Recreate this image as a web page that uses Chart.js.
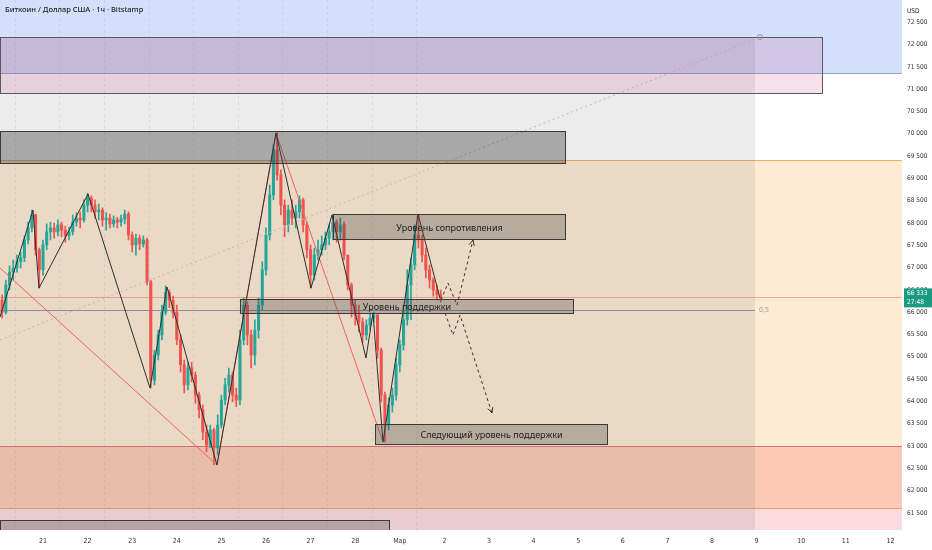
<!DOCTYPE html>
<html>
<head>
<meta charset="utf-8">
<script src="https://cdn.jsdelivr.net/npm/chart.js@4.4.1/dist/chart.umd.min.js"></script>
<style>
  html, body { margin: 0; padding: 0; background: #fff; }
</style>
</head>
<body>
<canvas id="chart" width="932" height="550"></canvas>
<script>
// BTC/USD 1h chart (Bitstamp) with support / resistance drawings

// --- candles (2h steps), open of each candle = previous close
const openPrice = 66270;
const closes = [
  66000, 66610, 66900, 66990, 67130, 67220, 67620, 67890, 68180, 67400,
  66950, 67510, 67800, 67890, 67800, 67960, 67840, 67710, 67800, 68020,
  68110, 68070, 68400, 68560, 68400, 68250, 68290, 68070, 68110, 67980,
  68070, 68020, 68090, 68200, 67730, 67510, 67660, 67530, 67620, 66680,
  64480, 65040, 65490, 66000, 66450, 66270, 66000, 65380, 64820, 64370,
  64750, 64590, 64140, 63810, 63310, 63020, 63360, 62960, 63470, 64030,
  64370, 64590, 64140, 64030, 65380, 66160, 65490, 65040, 65600, 66160,
  66950, 67730, 68630, 69640, 69080, 68400, 67960, 68290, 68110, 68250,
  68520, 67960, 67400, 66830, 67280, 67400, 67510, 67660, 67800, 68020,
  67800, 67960, 67280, 66610, 66160, 65940, 65780, 65490, 65710, 65870,
  65940, 65150, 64140, 63470, 63920, 64140, 64820, 65270, 65830, 66610,
  67060, 67730, 67620, 67280, 66950, 66720, 66500, 66390, 66333
];
const highs = [
  66390, 66720, 67040, 67170, 67280, 67350, 67710, 68020, 68290, 68200,
  67440, 67620, 67980, 68020, 68000, 68070, 68020, 67930, 67910, 68180,
  68230, 68250, 68520, 68670, 68610, 68520, 68430, 68340, 68230, 68200,
  68160, 68130, 68180, 68290, 68250, 67800, 67750, 67730, 67710, 67660,
  66720, 65150, 65600, 66160, 66590, 66500, 66360, 66160, 65490, 64930,
  64880, 64880, 64660, 64210, 63920, 63470, 63470, 63400, 63700, 64140,
  64520, 64750, 64660, 64300, 65600, 66320, 66230, 65600, 65830, 66320,
  67130, 67890, 68850, 69750, 70020, 69190, 68520, 68400, 68520, 68400,
  68610, 68560, 68020, 67510, 67440, 67620, 67710, 67800, 67960, 68200,
  68070, 68110, 68020, 67280, 66660, 66270, 66160, 65870, 65830, 65980,
  66000, 65940, 65200, 64210, 64080, 64300, 64970, 65380, 66050, 66950,
  67220, 67960, 68200, 67730, 67440, 67060, 66770, 66610, 66500
];
const lows = [
  65870, 65960, 66500, 66720, 66900, 66990, 67130, 67530, 67800, 67280,
  66540, 66830, 67400, 67620, 67660, 67710, 67690, 67570, 67620, 67730,
  67930, 67890, 68020, 68250, 68250, 68110, 68070, 67930, 67840, 67890,
  67910, 67890, 67930, 67980, 67620, 67350, 67280, 67400, 67460, 66610,
  64300, 64370, 64930, 65380, 65940, 66100, 65870, 65270, 64660, 64190,
  64260, 64440, 63960, 63630, 63140, 62870, 62960, 62580, 62800, 63400,
  63920, 64210, 63990, 63880, 63920, 65270, 65270, 64750, 64820, 65420,
  66050, 66830, 67620, 68520, 68960, 68180, 67690, 67800, 67960, 67890,
  68110, 67800, 67220, 66540, 66720, 67170, 67280, 67400, 67510, 67620,
  67570, 67620, 67170, 66500, 65890, 65710, 65560, 65310, 65380, 65600,
  65780, 64970, 63990, 63090, 63360, 63760, 64030, 64660, 65150, 65710,
  65830, 66950, 67440, 67130, 66770, 66540, 66360, 66270, 66230
];
const firstCandleDay = 20 + 1 / 12;   // Feb 20, 02:00
const candleHours = 2;

// --- x axis (days: 21 = Feb 21, 29 = Mar 1 ...)
const tickDays   = [21, 22, 23, 24, 25, 26, 27, 28, 29, 30, 31, 32, 33, 34, 35, 36, 37, 38, 39, 40];
const tickLabels = ['21', '22', '23', '24', '25', '26', '27', '28', 'Мар', '2', '3', '4', '5', '6', '7', '8', '9', '10', '11', '12'];
const sessionDays = [20.37, 21.37, 22.37, 23.37, 24.37, 25.37, 26.37, 27.37, 28.37, 29.37];

// --- y axis
const priceTicks = [61500, 62000, 62500, 63000, 63500, 64000, 64500, 65000, 65500, 66000,
                    66500, 67000, 67500, 68000, 68500, 69000, 69500, 70000, 70500, 71000,
                    71500, 72000, 72500];
const lastPrice = 66333;
const lastTimer = '27:48';

// --- horizontal zones (top to bottom)
const zoneLevels = [73000, 71363, 69412, 63000, 61610, 61117];

// --- drawings
const zigzagBlack = [
  [20.036, 65892], [20.776, 68291], [20.910, 66542], [22.009, 68650], [23.399, 64300],
  [23.780, 66565], [24.901, 62574], [26.224, 70017], [27.009, 66542], [27.480, 68179],
  [28.242, 64973], [28.399, 65982], [28.623, 63090], [29.408, 68201], [29.901, 66318]
];
const zigzagRed = [[20.036, 66991], [24.901, 62574], [26.224, 70017], [28.623, 63090]];
const trendDotted = [[20.036, 65377], [37.076, 72170]];
const pathUp   = [[29.924, 66273], [30.081, 66654], [30.283, 66160], [30.641, 67619]];
const pathDown = [[30.013, 65982], [30.193, 65489], [30.350, 65937], [31.067, 63740]];
const fibHalf = 66050;
const fibHalfLabel = '0,5';
const shadeEndDay = 36.964;

// boxes: [dayFrom, dayTo, priceTop, priceBottom]
const zoneBox     = [20.036, 38.466, 72170, 70914];
const darkBox     = [20.036, 32.704, 70062, 69345];
const bottomBox   = [20.036, 28.758, 61341, 60900];
const textBoxes = [
  [27.502, 32.704, 68200, 67641],
  [25.417, 32.883, 66296, 65983],
  [28.444, 33.646, 63493, 63045]
];
const textBoxLabels = ['Уровень сопротивления', 'Уровень поддержки', 'Следующий уровень поддержки'];

const UP = '#26a69a';
const DOWN = '#ef5350';
const AXIS_FONT = '"DejaVu Sans Condensed", "Liberation Sans Narrow", "Noto Sans"';

const opens = closes.map((c, i) => (i === 0 ? openPrice : closes[i - 1]));
const times = closes.map((c, i) => firstCandleDay + i * candleHours / 24);
const candleColors = closes.map((c, i) => (c >= opens[i] ? UP : DOWN));
const toXY = pts => pts.map(p => ({ x: p[0], y: p[1] }));

function lineDataset(points, color, extra) {
  return Object.assign({
    type: 'line',
    data: toXY(points),
    borderColor: color,
    borderWidth: 1,
    pointRadius: 0,
    tension: 0,
    fill: false
  }, extra || {});
}

function priceLabel(v) {
  const t = Math.floor(v / 1000);
  return t + ' ' + String(v % 1000).padStart(3, '0');
}

const drawingsPlugin = {
  id: 'drawings',
  beforeDatasetsDraw(chart) {
    const { ctx, chartArea: a, scales: { x, y } } = chart;
    ctx.save();
    ctx.beginPath();
    ctx.rect(a.left, a.top, a.width, a.height);
    ctx.clip();

    const zoneFill = ['#d4e0fb', '#ffffff', '#fdebd3', '#fbc9b5', '#fcdbe0'];
    for (let i = 0; i < zoneLevels.length - 1; i++) {
      const y1 = y.getPixelForValue(zoneLevels[i]);
      const y2 = y.getPixelForValue(zoneLevels[i + 1]);
      ctx.fillStyle = zoneFill[i];
      ctx.fillRect(a.left, y1, a.width, y2 - y1);
    }

    // session separators
    ctx.strokeStyle = 'rgba(120,120,120,0.15)';
    ctx.setLineDash([3, 3]);
    ctx.lineWidth = 1;
    sessionDays.forEach(d => {
      const px = Math.round(x.getPixelForValue(d)) + 0.5;
      ctx.beginPath();
      ctx.moveTo(px, a.top);
      ctx.lineTo(px, a.bottom);
      ctx.stroke();
    });
    ctx.setLineDash([]);

    // zone borders
    const zoneLine = ['#8ea6e6', '#f5ad5e', '#e07070', '#f0a060'];
    for (let i = 1; i < zoneLevels.length - 1; i++) {
      const py = Math.round(y.getPixelForValue(zoneLevels[i])) + 0.5;
      ctx.strokeStyle = zoneLine[i - 1];
      ctx.beginPath();
      ctx.moveTo(a.left, py);
      ctx.lineTo(a.right, py);
      ctx.stroke();
    }

    // shaded history range
    const sx = x.getPixelForValue(shadeEndDay);
    const sy = y.getPixelForValue(zoneBox[2]);
    ctx.fillStyle = 'rgba(110,110,110,0.13)';
    ctx.fillRect(a.left, sy, sx - a.left, a.bottom - sy);

    // fib 0.5 line and last price line
    let py = Math.round(y.getPixelForValue(fibHalf)) + 0.5;
    ctx.strokeStyle = '#8c8c9c';
    ctx.beginPath();
    ctx.moveTo(a.left, py);
    ctx.lineTo(sx, py);
    ctx.stroke();
    ctx.fillStyle = '#9a9a9a';
    ctx.font = '7px ' + AXIS_FONT;
    ctx.textBaseline = 'middle';
    ctx.fillText(fibHalfLabel, sx + 4, py);

    py = Math.round(y.getPixelForValue(lastPrice)) + 0.5;
    ctx.strokeStyle = 'rgba(239,83,80,0.45)';
    ctx.beginPath();
    ctx.moveTo(a.left, py);
    ctx.lineTo(a.right, py);
    ctx.stroke();
    ctx.restore();
  },
  afterDatasetsDraw(chart) {
    const { ctx, chartArea: a, scales: { x, y } } = chart;
    ctx.save();
    ctx.beginPath();
    ctx.rect(a.left, a.top, a.width, a.height);
    ctx.clip();

    function box(b, fill, stroke) {
      const x1 = Math.round(x.getPixelForValue(b[0])) + 0.5;
      const x2 = Math.round(x.getPixelForValue(b[1])) + 0.5;
      const y1 = Math.round(y.getPixelForValue(b[2])) + 0.5;
      const y2 = Math.round(y.getPixelForValue(b[3])) + 0.5;
      ctx.fillStyle = fill;
      ctx.fillRect(x1, y1, x2 - x1, y2 - y1);
      ctx.strokeStyle = stroke;
      ctx.lineWidth = 1;
      ctx.strokeRect(x1, y1, x2 - x1, y2 - y1);
      return [x1, x2, y1, y2];
    }

    box(zoneBox, 'rgba(200,70,130,0.17)', '#5a5a5a');
    box(darkBox, 'rgba(60,60,60,0.38)', '#3a3a3a');
    box(bottomBox, 'rgba(70,70,70,0.3)', '#3a3a3a');
    ctx.font = '9px "Noto Sans"';
    ctx.textAlign = 'center';
    ctx.textBaseline = 'middle';
    textBoxes.forEach((b, i) => {
      const r = box(b, 'rgba(70,70,70,0.32)', '#3a3a3a');
      ctx.fillStyle = '#1e1e1e';
      ctx.fillText(textBoxLabels[i], (r[0] + r[1]) / 2, (r[2] + r[3]) / 2 + 1);
    });

    // end point of the dotted trend line
    const tp = trendDotted[trendDotted.length - 1];
    ctx.strokeStyle = '#9a9a9a';
    ctx.beginPath();
    ctx.arc(x.getPixelForValue(tp[0]), y.getPixelForValue(tp[1]), 2.5, 0, Math.PI * 2);
    ctx.stroke();

    // arrow heads on projected paths
    ctx.strokeStyle = '#333';
    [pathUp, pathDown].forEach(p => {
      const n = p.length;
      const x1 = x.getPixelForValue(p[n - 2][0]), y1 = y.getPixelForValue(p[n - 2][1]);
      const x2 = x.getPixelForValue(p[n - 1][0]), y2 = y.getPixelForValue(p[n - 1][1]);
      const ang = Math.atan2(y2 - y1, x2 - x1);
      ctx.beginPath();
      ctx.moveTo(x2 - 6 * Math.cos(ang - 0.45), y2 - 6 * Math.sin(ang - 0.45));
      ctx.lineTo(x2, y2);
      ctx.lineTo(x2 - 6 * Math.cos(ang + 0.45), y2 - 6 * Math.sin(ang + 0.45));
      ctx.stroke();
    });
    ctx.restore();

    // title, currency, last price tag
    ctx.save();
    ctx.fillStyle = '#222';
    ctx.font = '500 7.5px "Noto Sans"';
    ctx.textBaseline = 'middle';
    ctx.fillText('Биткоин / Доллар США · 1ч · Bitstamp', 5, 10);
    ctx.font = '6.5px ' + AXIS_FONT;
    ctx.fillText('USD', a.right + 5, 11);
    const ly = y.getPixelForValue(lastPrice);
    ctx.fillStyle = '#1a9a80';
    ctx.fillRect(a.right + 2, ly - 9, 29, 19);
    ctx.fillStyle = '#fff';
    ctx.fillText(priceLabel(lastPrice), a.right + 5, ly - 4);
    ctx.fillText(lastTimer, a.right + 5, ly + 5);
    ctx.restore();
  }
};

new Chart(document.getElementById('chart'), {
  type: 'bar',
  data: {
    datasets: [
      lineDataset(zigzagBlack, '#2e2e2e'),
      lineDataset(zigzagRed, '#f06262'),
      lineDataset(trendDotted, '#b8b8b8', { borderDash: [2, 3] }),
      lineDataset(pathUp, '#333', { borderDash: [3, 3] }),
      lineDataset(pathDown, '#333', { borderDash: [3, 3] }),
      {
        data: times.map((t, i) => ({ x: t, y: [opens[i], closes[i]] })),
        backgroundColor: candleColors,
        barThickness: 2.4,
        minBarLength: 1,
        grouped: false
      },
      {
        data: times.map((t, i) => ({ x: t, y: [lows[i], highs[i]] })),
        backgroundColor: candleColors,
        barThickness: 1,
        grouped: false
      }
    ]
  },
  options: {
    responsive: false,
    animation: false,
    layout: { padding: 0 },
    plugins: { legend: { display: false }, tooltip: { enabled: false } },
    scales: {
      x: {
        type: 'linear',
        offset: false,
        min: 20.036,
        max: 40.26,
        grid: { display: false, drawTicks: false },
        border: { display: false },
        afterBuildTicks: s => { s.ticks = tickDays.map(v => ({ value: v })); },
        afterFit: s => { s.height = 20; s.paddingLeft = 0; s.paddingRight = 0; },
        ticks: {
          autoSkip: false,
          maxRotation: 0,
          padding: 7,
          color: '#333',
          font: { family: AXIS_FONT, size: 7 },
          callback: v => tickLabels[tickDays.indexOf(v)]
        }
      },
      y: {
        type: 'linear',
        position: 'right',
        min: 61117,
        max: 73000,
        grid: { display: false, drawTicks: false },
        border: { display: false },
        afterBuildTicks: s => { s.ticks = priceTicks.map(v => ({ value: v })); },
        afterFit: s => { s.width = 30; s.paddingTop = 0; s.paddingBottom = 0; },
        ticks: {
          padding: 5,
          color: '#333',
          font: { family: AXIS_FONT, size: 6.5 },
          callback: v => priceLabel(v)
        }
      }
    }
  },
  plugins: [drawingsPlugin]
});
</script>
</body>
</html>
